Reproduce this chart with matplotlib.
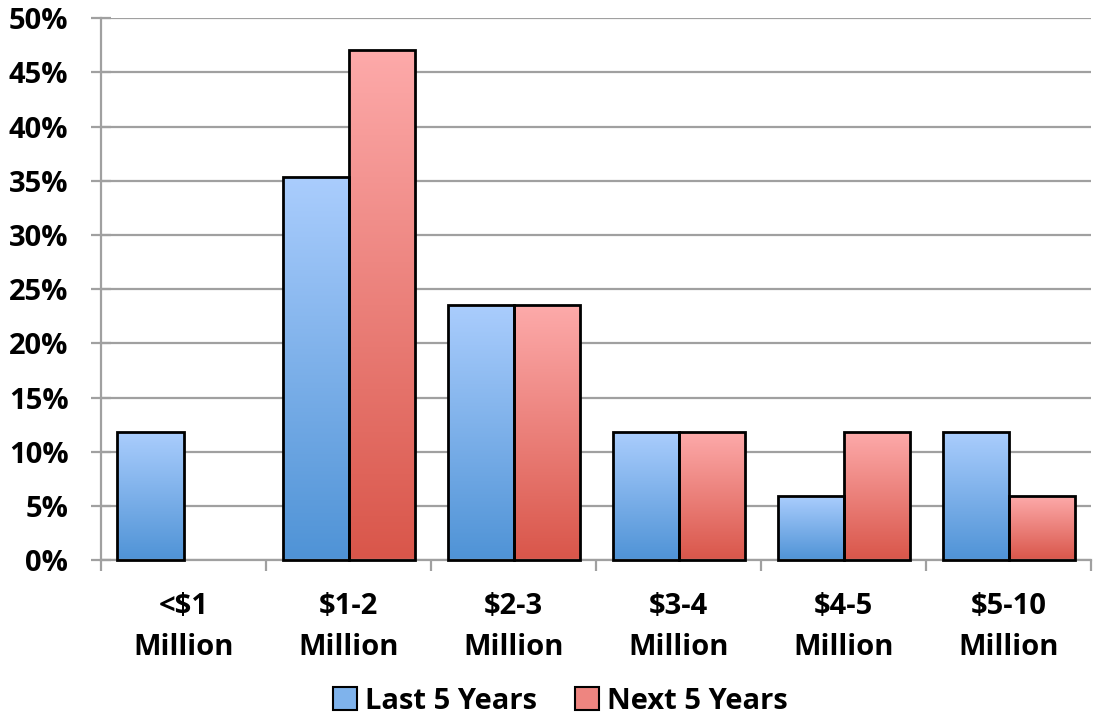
import numpy as np
import matplotlib.pyplot as plt
from matplotlib.colors import LinearSegmentedColormap
from matplotlib.patches import Patch

# Daten
categories = ["<$1\nMillion", "$1-2\nMillion", "$2-3\nMillion", "$3-4\nMillion", "$4-5\nMillion", "$5-10\nMillion"]
last_5 = [11.8, 35.3, 23.5, 11.8, 5.9, 11.8]
next_5 = [0.0, 47.1, 23.5, 11.8, 11.8, 5.9]
series_names = ["Last 5 Years", "Next 5 Years"]
y_ticks = [0, 5, 10, 15, 20, 25, 30, 35, 40, 45, 50]

plt.rcParams['font.family'] = ['Open Sans', 'DejaVu Sans']
plt.rcParams['font.weight'] = 'bold'
FS = 21

blue_cmap = LinearSegmentedColormap.from_list("b", ["#4f93d6", "#aacdfd"])
red_cmap = LinearSegmentedColormap.from_list("r", ["#d9564a", "#fdaaaa"])

fig = plt.figure(figsize=(10.93, 7.23), dpi=100)
ax = fig.add_axes([0.0924, 0.225, 0.906, 0.75])

x = np.arange(len(categories))
w = 0.4
grad = np.linspace(0, 1, 256).reshape(-1, 1)

for vals, offs, cmap in [(last_5, -w / 2, blue_cmap), (next_5, w / 2, red_cmap)]:
    bars = ax.bar(x + offs, vals, w, facecolor='none', edgecolor='black', linewidth=2, zorder=3)
    for b in bars:
        h = b.get_height()
        if h <= 0:
            b.set_visible(False)
            continue
        x0 = b.get_x()
        im = ax.imshow(grad, extent=[x0, x0 + w, 0, h], origin='lower', cmap=cmap,
                       aspect='auto', zorder=2)
        im.set_clip_path(b)
        b.set_clip_on(False)

ax.set_xlim(-0.5, len(categories) - 0.5)
ax.set_ylim(0, 50)
ax.set_yticks(y_ticks)
ax.set_yticklabels([f"{t}%" for t in y_ticks], fontsize=FS, fontweight='bold')
ax.yaxis.grid(True, color='#a0a0a0', linewidth=1.6, zorder=0)
ax.set_axisbelow(True)

ax.set_xticks(x)
ax.set_xticklabels(categories, fontsize=FS, fontweight='bold', linespacing=1.55)
ax.tick_params(axis='x', length=0, pad=23)
ax.tick_params(axis='y', direction='inout', length=15, width=1.6, color='#a0a0a0', pad=16)
ax.set_xticks(np.arange(-0.5, len(categories)), minor=True)
ax.tick_params(axis='x', which='minor', length=8, width=1.6, color='#a0a0a0')

for s in ['top', 'right']:
    ax.spines[s].set_visible(False)
for s in ['left', 'bottom']:
    ax.spines[s].set_color('#a0a0a0')
    ax.spines[s].set_linewidth(1.6)

handles = [Patch(facecolor='#7fb3ec', edgecolor='black', linewidth=1.5),
           Patch(facecolor='#ee8580', edgecolor='black', linewidth=1.5)]
fig.legend(handles, series_names, loc='lower center', bbox_to_anchor=(0.513, -0.026), ncol=2,
           frameon=False, prop={'size': FS, 'weight': 'bold'}, handlelength=0.8, handleheight=0.8,
           handletextpad=0.3, columnspacing=1.3)

fig.savefig("out.png", dpi=100)
